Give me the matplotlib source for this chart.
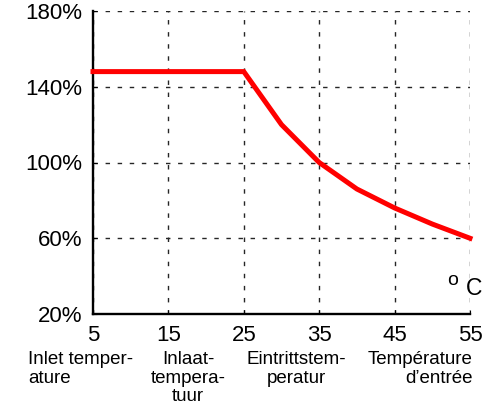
import matplotlib
matplotlib.use("Agg")
import matplotlib.pyplot as plt

# данные: температура на входе и допустимая нагрузка
temps = [5, 25, 30, 35, 40, 45, 50, 55]
load = [148, 148, 120, 100, 86, 76, 67.5, 60]
xticks = [5, 15, 25, 35, 45, 55]
yticks = [20, 60, 100, 140, 180]
ytick_labels = ["20%", "60%", "100%", "140%", "180%"]
sub_labels = ["Inlet temper-\nature", "Inlaat-\ntempera-\ntuur",
              "Eintrittstem-\nperatur", "Température\nd\u2019entrée"]

plt.rcParams["font.family"] = ["Liberation Sans", "DejaVu Sans"]
plt.rcParams["lines.scale_dashes"] = False

W, H = 499, 408
fig = plt.figure(figsize=(W / 100, H / 100), dpi=100)
ax = fig.add_axes([93 / W, 1 - 314 / H, (470 - 93) / W, (314 - 11) / H])

ax.plot(temps, load, color="red", lw=3.6, clip_on=False, zorder=5,
        solid_joinstyle="miter")

ax.set_xlim(5, 55)
ax.set_ylim(20, 180)
ax.set_xticks(xticks)
ax.set_yticks(yticks)
ax.set_yticklabels(ytick_labels)

ax.grid(True, color="0.15", lw=1.0, linestyle=(0, (3.2, 5.5)))
for s in ["top", "right"]:
    ax.spines[s].set_visible(False)
for s in ["left", "bottom"]:
    ax.spines[s].set_linewidth(1.7)
ax.tick_params(direction="in", length=3, width=0.8, labelsize=16,
               top=False, right=False)
ax.tick_params(axis="x", pad=8)
ax.tick_params(axis="y", pad=8)

# подпись единиц
ax.text(52.0, 35.3, "o", fontsize=14, ha="left", va="baseline")
ax.text(54.5, 30, "C", fontsize=16.5, ha="left", va="baseline")

# подписи на четырёх языках под осью
ytop = 1 - 351 / H
fs = 13.5
ls = 1.12
fig.text(28 / W, ytop, sub_labels[0], fontsize=fs, ha="left", va="top",
         multialignment="left", linespacing=ls)
fig.text(188 / W, ytop, sub_labels[1], fontsize=fs, ha="center", va="top",
         multialignment="center", linespacing=ls)
fig.text(296 / W, ytop, sub_labels[2], fontsize=fs, ha="center", va="top",
         multialignment="center", linespacing=ls)
fig.text(473 / W, ytop, sub_labels[3], fontsize=fs, ha="right", va="top",
         multialignment="right", linespacing=ls)

fig.savefig("out.png", dpi=100)
